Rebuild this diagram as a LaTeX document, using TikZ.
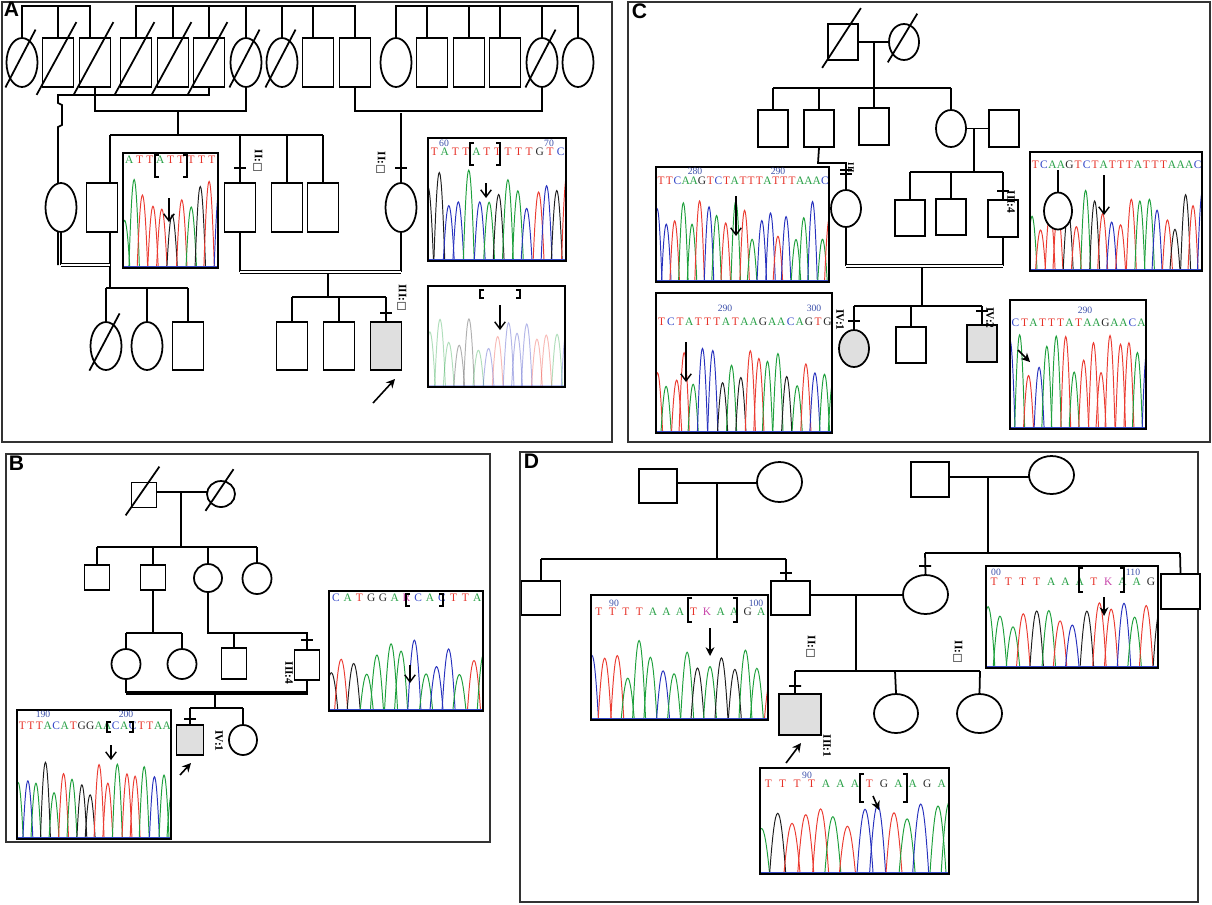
\documentclass[tikz,border=0pt]{standalone}
\usepackage{fontspec}
\setmainfont{Liberation Serif}
\newfontfamily\symf{DejaVu Sans}
\newfontfamily\hv{Liberation Sans}
\usetikzlibrary{calc,arrows.meta,shapes.geometric}
\definecolor{colT}{RGB}{230,50,40}
\definecolor{colA}{RGB}{40,160,70}
\definecolor{colC}{RGB}{50,70,200}
\definecolor{colG}{RGB}{40,40,40}
\definecolor{colK}{RGB}{200,70,170}
\definecolor{colR}{RGB}{200,70,170}
\definecolor{pk0}{RGB}{235,60,50}
\definecolor{pk1}{RGB}{235,60,50}
\definecolor{pk2}{RGB}{30,160,60}
\definecolor{pk3}{RGB}{30,160,60}
\definecolor{pk4}{RGB}{40,50,190}
\definecolor{pk5}{RGB}{30,30,30}
\definecolor{num}{RGB}{60,80,170}
\tikzset{
 male/.style={draw,rectangle,inner sep=0,line width=1pt,fill=white},
 female/.style={draw,ellipse,inner sep=0,line width=1pt,fill=white},
 aff/.style={fill=gray!25},
 seqt/.style={font=\fontsize{6.5}{7}\selectfont,inner sep=0},
 numt/.style={font=\fontsize{5.5}{6}\selectfont,inner sep=0,text=num},
 lab/.style={font=\fontsize{6.5}{7}\selectfont\bfseries,inner sep=0,rotate=-90},
 plab/.style={font=\hv\bfseries\fontsize{12}{12}\selectfont,inner sep=0,anchor=north west},
 frame/.style={draw=black!80,line width=1.1pt},
 oarr/.style={-{Straight Barb[length=4pt,width=6pt]},line width=0.8pt},
 farr/.style={-{Stealth[length=5pt,width=5pt]},line width=0.9pt},
 dbl/.style={double,double distance=1.3pt,line width=0.6pt}
}
\newcommand\Ma[6][]{\node[male,#1,minimum width=#5*0.02cm,minimum height=#6*0.02cm] (#2) at (#3,#4) {};}
\newcommand\Fe[6][]{\node[female,#1,minimum width=#5*0.02cm,minimum height=#6*0.02cm] (#2) at (#3,#4) {};}
\newcommand\dead[1]{\draw ($(#1.south west)+(-5,7)$) -- ($(#1.north east)+(2,-15)$);}
\newcommand\chrom[8][1]{%
 \pgfmathsetseed{#7}
 \begin{scope}
 \clip (#2,#3) rectangle (#4,#5);
 \pgfmathsetmacro\dx{(#4-#2)/#6}
 \foreach \i in {0,...,#6} {
   \pgfmathsetmacro\px{#2+\dx*(\i+0.25*rnd)}
   \pgfmathsetmacro\tp{#8+0.5*(#5-#8)*rnd}
   \pgfmathsetmacro\cy{#5-(#5-\tp)/0.75}
   \pgfmathtruncatemacro\cc{min(5,int(6*rnd))}
   \draw[color=pk\cc,line width=0.55pt,opacity=#1] (\px-\dx*0.55,#5-1) .. controls (\px-\dx*0.15,\cy) and (\px+\dx*0.15,\cy) .. (\px+\dx*0.55,#5-1);
 }
 \draw[colC,line width=0.4pt,opacity=#1] (#2,#5-2) -- (#4,#5-2);
 \end{scope}
 \draw[line width=1.1pt] (#2,#3) rectangle (#4,#5);}
\newcommand\seqrow[5]{\foreach \l [count=\i] in {#5} {\node[seqt,text=col\l] at ({#1+(\i-0.5)*(#2-#1)/#4},#3) {\l};}}
\newcommand\brk[4]{\draw[line width=0.8pt] (#1+4,#3) -- (#1,#3) -- (#1,#4) -- (#1+4,#4) (#2-4,#3) -- (#2,#3) -- (#2,#4) -- (#2-4,#4);}
\begin{document}
\begin{tikzpicture}[x=0.02cm,y=-0.02cm,line width=1pt]
\useasboundingbox (0,0) rectangle (1212,904);
% frames
\draw[frame] (2,2) rectangle (612,442);
\draw[frame] (628,2) rectangle (1210,442);
\draw[frame] (6,454) rectangle (490,842);
\draw[frame] (520,452) rectangle (1198,902);
\node[plab] (LA) at (3,1) {A};
\node[plab] (LC) at (631,3) {C};
\node[plab] (LB) at (8,455) {B};
\node[plab] (LD) at (523,453) {D};

% ================= PANEL A
\foreach \x/\t/\n in {22/F/a1,58/M/a2,95/M/a3,136/M/a4,173/M/a5,209/M/a6,246/F/a7,282/F/a8,318/M/a9,355/M/a10,396/F/a11,432/M/a12,469/M/a13,505/M/a14,542/F/a15,578/F/a16}{
  \if\t M \Ma{\n}{\x}{62.5}{31}{49}\else \Fe{\n}{\x}{62.5}{31}{49}\fi}
\foreach \n in {a1,a2,a3,a4,a5,a6,a7,a8,a15} {\dead{\n}}
\draw (22,38)--(22,6)--(90,6)--(90,38) (58,6)--(58,38);
\draw (136,38)--(136,6)--(355,6)--(355,38);
\foreach \x in {173,209,246,282,313} \draw (\x,6)--(\x,38);
\draw (396,38)--(396,6)--(578,6)--(578,38);
\foreach \x in {427,469,500,542} \draw (\x,6)--(\x,38);
\draw (209,87)--(209,95)--(58,95)--(58,103)--(62,105)--(62,125)--(58,127)--(58,265);
\draw (95,87)--(95,111)--(246,111)--(246,87);
\draw (178,111)--(178,135) (110,135)--(323,135);
\draw (110,135)--(110,288);
\draw (355,87)--(355,111)--(542,111)--(542,87);
\Fe{b1}{61}{207.5}{31}{49}
\Ma{b2}{102}{207.5}{31}{49}
\Ma{b3}{240}{207.5}{31}{49}
\Ma{b4}{287}{207.5}{31}{49}
\Ma{b5}{323}{207.5}{31}{49}
\Fe{b6}{401}{207.5}{31}{49}
\draw (240,135)--(b3.north) (287,135)--(b4.north) (323,135)--(b5.north);
\draw (401,113)--(b6.north) (395,168)--(407,168) (234,168)--(246,168);
\draw (b1.south)--(61,265);
\draw[dbl] (61,265)--(110,265);
\draw (b3.south)--(240,272) (b6.south)--(401,272);
\draw[dbl] (240,272)--(401,272);
\draw (328,273)--(328,297) (292,297)--(386,297);
\draw (106,288)--(188,288);
\Fe{c1}{106}{346}{31}{48}\dead{c1}
\Fe{c2}{147}{346}{31}{48}
\Ma{c3}{188}{346}{31}{48}
\Ma{c4}{292}{346}{31}{48}
\Ma{c5}{339}{346}{31}{48}
\Ma[aff]{c6}{386}{346}{31}{48}
\foreach \x/\n in {106/c1,147/c2,188/c3} \draw (\x,288)--(\n.north);
\foreach \x/\n in {292/c4,339/c5,386/c6} \draw (\x,297)--(\n.north);
\draw (380,313)--(392,313);
\coordinate (pA) at (373,403);
\draw[farr] (pA)--(395,379);
\node[lab] (lA1) at (258,161) {II:{\symf\fontsize{6}{6}\selectfont□}};
\node[lab] (lA2) at (381,163) {II:{\symf\fontsize{6}{6}\selectfont□}};
\node[lab] (lA3) at (402,298) {III:{\symf\fontsize{6}{6}\selectfont□}};
% chromatograms A
\chrom{123}{153}{218}{268}{10}{11}{178}
\seqrow{124}{217}{160}{9}{A,T,T,A,T,T,T,T,T}
\brk{155}{187}{155}{177}
\draw[oarr] (169,198)--(169,222);
\chrom{428}{138}{566}{261}{14}{23}{170}
\seqrow{429}{566}{152}{13}{T,A,T,T,A,T,T,T,T,T,G,T,C}
\node[numt] at (444,143) {60};\node[numt] at (549,143) {70};
\brk{470}{500}{143}{165}
\draw[oarr] (486,183)--(486,198);
\chrom[0.35]{428}{286}{565}{387}{14}{37}{318}
\brk{480}{520}{290}{298}
\draw[oarr] (500,305)--(500,330);

% ================= PANEL C
\Ma{d1}{843}{42}{30}{36}\dead{d1}
\Fe{d2}{904}{42}{30}{36}\dead{d2}
\draw (d1.east)--(d2.west) (874,42)--(874,88) (773,88)--(951,88);
\Ma{e1}{773}{128.5}{30}{37}
\Ma{e2}{819}{128.5}{30}{37}
\Ma{e3}{874}{126.5}{30}{37}
\Fe{e4}{951}{128.5}{30}{37}
\Ma{e5}{1004}{128.5}{30}{37}
\foreach \n/\x in {e1/773,e2/819,e3/874,e4/951} \draw (\x,88)--(\n.north);
\draw (e4.east)--(e5.west) (974,129)--(974,172) (910,172)--(1003,172);
\Ma{f1}{910}{218}{30}{36}
\Ma{f2}{951}{217}{30}{36}
\Ma{f3}{1003}{218.5}{30}{37}
\Fe{f4}{846}{208.5}{30}{37}
\foreach \n/\x in {f1/910,f2/951,f3/1003} \draw (\x,172)--(\n.north);
\draw (e2.south)--(818,163)--(846,163)--(f4.north);
\draw (840,170)--(852,170) (840,174)--(852,174);
\node[lab,font=\fontsize{5}{5}\selectfont\bfseries] (lC1) at (851,168) {III};
\draw (997,191)--(1009,191);
\node[lab] (lC2) at (1011,202) {III:4};
\draw (f4.south)--(846,266) (f3.south)--(1003,266);
\draw[dbl] (846,266)--(1003,266);
\draw (922,267)--(922,306) (854,306)--(982,306);
\Fe[aff]{g1}{854}{348.5}{30}{37}
\Ma{g2}{911}{345}{30}{36}
\Ma[aff]{g3}{982}{343.5}{30}{37}
\foreach \n/\x in {g1/854,g2/911,g3/982} \draw (\x,306)--(\n.north);
\draw (848,321)--(860,321) (976,311)--(988,311);
\node[lab] (lC3) at (840,320) {IV:1};
\node[lab] (lC4) at (990,318) {IV:2};
\chrom{656}{167}{829}{282}{20}{41}{200}
\seqrow{657}{829}{181}{21}{T,T,C,A,A,G,T,C,T,A,T,T,T,A,T,T,T,A,A,A,C}
\node[numt] at (695,171) {280};\node[numt] at (778,171) {290};
\draw[oarr] (736,196)--(736,236);
\chrom{1030}{152}{1202}{271}{19}{53}{190}
\seqrow{1031}{1202}{165}{20}{T,C,A,A,G,T,C,T,A,T,T,T,A,T,T,T,A,A,A,C}
\Fe{h1}{1058}{211}{28}{37}
\draw (1058,170)--(h1.north);
\draw[oarr] (1104,175)--(1104,215);
\chrom{656}{293}{832}{433}{19}{67}{342}
\seqrow{657}{832}{322}{19}{T,C,T,A,T,T,T,A,T,A,A,G,A,A,C,A,G,T,G}
\node[numt] at (725,308) {290};\node[numt] at (814,308) {300};
\draw[oarr] (686,342)--(686,382);
\chrom{1010}{300}{1146}{429}{15}{79}{335}
\seqrow{1011}{1146}{323}{15}{C,T,A,T,T,T,A,T,A,A,G,A,A,C,A}
\node[numt] at (1085,310) {290};
\draw[farr] (1018,350)--(1030,362);

% ================= PANEL B
\Ma{i1}{144}{495}{25}{25}\dead{i1}
\Fe{i2}{221}{494}{28}{26}\dead{i2}
\draw (157,492)--(207,492) (181,492)--(181,547) (97,547)--(257,547);
\Ma{j1}{97}{577.5}{25}{25}
\Ma{j2}{153}{577.5}{25}{25}
\Fe{j3}{208}{578}{28}{28}
\Fe{j4}{257}{578.5}{29}{31}
\foreach \n/\x in {j1/97,j2/153,j3/208,j4/257} \draw (\x,547)--(\n.north);
\draw (j2.south)--(153,633) (126,633)--(182,633);
\Fe{k1}{126}{664}{29}{30}
\Fe{k2}{182}{664}{29}{30}
\Ma{k3}{234}{663.5}{25}{31}
\Ma{k4}{307}{665}{25}{30}
\draw (126,633)--(k1.north) (182,633)--(k2.north);
\draw (j3.south)--(208,633)--(307,633)--(k4.north) (234,633)--(k3.north);
\draw (301,640)--(313,640);
\node[lab] (lB1) at (289,673) {III:4};
\draw[line width=2pt] (126,693)--(308,693);
\draw (k1.south)--(126,693) (k4.south)--(307,693) (215,693)--(215,708) (190,708)--(243,708);
\Ma[aff]{l1}{190}{740}{27}{30}
\Fe{l2}{243}{740}{28}{30}
\draw (190,708)--(l1.north) (243,708)--(l2.north) (184,719)--(196,719);
\node[lab] (lB2) at (219,741) {IV:1};
\draw[farr] (180,775)--(191,763);
\chrom{329}{591}{483}{711}{13}{83}{640}
\seqrow{330}{483}{598}{13}{C,A,T,G,G,A,R,C,A,C,T,T,A}
\brk{406}{443}{594}{606}
\draw[oarr] (410,665)--(410,683);
\chrom{17}{710}{171}{839}{17}{97}{760}
\seqrow{18}{171}{726}{18}{T,T,T,A,C,A,T,G,G,A,A,C,A,C,T,T,A,A}
\node[numt] at (43,714) {190};\node[numt] at (126,714) {200};
\brk{107}{133}{722}{732}
\draw[oarr] (111,745)--(111,760);

% ================= PANEL D
\Ma{m1}{658}{486}{38}{34}
\Fe{m2}{779.5}{482}{45}{40}
\draw (677,483)--(757,483) (717,483)--(717,559) (541,559)--(786,559);
\Ma{n1}{541}{598}{39}{34}
\Ma{n2}{790.5}{598}{39}{34}
\draw (541,559)--(n1.north) (786,559)--(786,581) (780,573)--(792,573);
\Ma{m3}{930}{479.5}{38}{35}
\Fe{m4}{1051.5}{475}{45}{38}
\draw (949,477)--(1029,477) (988,477)--(988,553) (925,553)--(1180,553);
\Fe{n3}{925.5}{594.5}{45}{39}
\Ma{n4}{1180.5}{591.5}{39}{35}
\draw (925,553)--(n3.north) (1180,553)--(n4.north) (919,566)--(931,566);
\draw (810,595)--(903,595) (856,595)--(856,671) (795,671)--(980,671);
\Ma[aff]{o1}{800}{714.5}{42}{41}
\Fe{o2}{896}{713.5}{44}{39}
\Fe{o3}{979.5}{713.5}{45}{39}
\draw (795,671)--(795,694) (895,671)--(o2.north) (980,671)--(o3.north) (789,686)--(801,686);
\node[lab] (lD1) at (811,647) {II:{\symf\fontsize{6}{6}\selectfont□}};
\node[lab] (lD2) at (958,652) {II:{\symf\fontsize{6}{6}\selectfont□}};
\node[lab] (lD3) at (827,746) {III:1};
\draw[farr] (786,763)--(801,743);
\chrom{591}{595}{768}{720}{15}{101}{640}
\seqrow{592}{768}{612}{13}{T,T,T,T,A,A,A,T,K,A,A,G,A}
\node[numt] at (614,603) {90};\node[numt] at (756,603) {100};
\brk{688}{737}{598}{622}
\draw[farr] (710,628)--(710,656);
\chrom{986}{566}{1158}{668}{14}{113}{600}
\seqrow{987}{1158}{582}{12}{T,T,T,T,A,A,A,T,K,A,A,G}
\node[numt] at (996,572) {00};\node[numt] at (1133,572) {110};
\brk{1079}{1124}{568}{592}
\draw[farr] (1104,597)--(1104,616);
\chrom{760}{768}{949}{874}{13}{127}{795}
\seqrow{761}{949}{784}{13}{T,T,T,T,A,A,A,T,G,A,A,G,A}
\node[numt] at (807,775) {90};
\brk{860}{907}{774}{802}
\draw[farr] (873,796)--(879,810);
\end{tikzpicture}
\end{document}
